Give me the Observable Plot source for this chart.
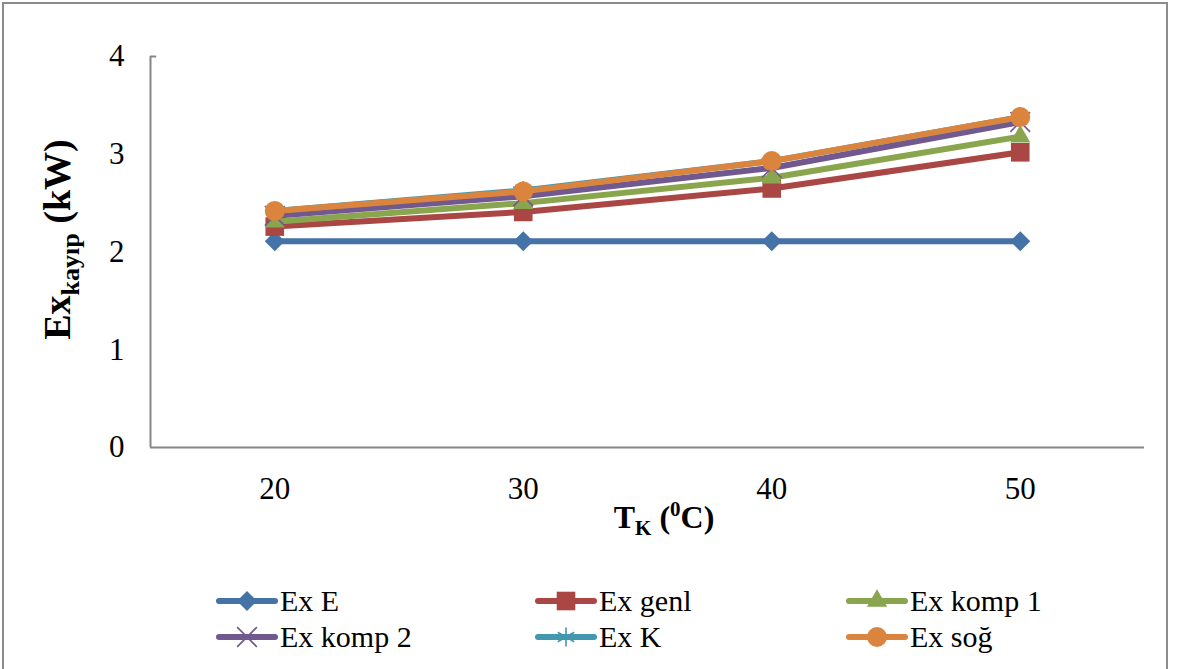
<!DOCTYPE html>
<html>
<head>
<meta charset="utf-8">
<script src="https://cdn.jsdelivr.net/npm/d3@7"></script>
<script src="https://cdn.jsdelivr.net/npm/@observablehq/plot@0.6"></script>
<style>
  body { margin: 0; background: #fff; font-family: "Liberation Serif", "Times New Roman", serif; }
  #chart { position: absolute; left: 0; top: 0; }
  #legend { position: absolute; left: 0; top: 0; width: 1184px; }
  .item { position: absolute; height: 36px; display: flex; align-items: center; font-size: 30px; color: #000; white-space: nowrap; }
  .item svg { margin-right: 4px; overflow: visible; }
  #frame { position: absolute; left: 2px; top: 2px; width: 1162px; height: 720px; border: 2px solid #8c8c8c; pointer-events: none; }
</style>
</head>
<body>
<div id="chart"></div>
<div id="legend"></div>
<div id="frame"></div>
<script>
// Condenser temperature T_K (°C)
const temps = [20, 30, 40, 50];

// Exergy loss per component (kW)
const exE     = [2.11, 2.11, 2.11, 2.11];
const exGenl  = [2.26, 2.41, 2.65, 3.02];
const exKomp1 = [2.31, 2.50, 2.76, 3.18];
const exKomp2 = [2.37, 2.57, 2.86, 3.33];
const exK     = [2.42, 2.63, 2.93, 3.38];
const exSog   = [2.42, 2.62, 2.93, 3.38];

const seriesNames = ["Ex E", "Ex genl", "Ex komp 1", "Ex komp 2", "Ex K", "Ex soğ"];
const seriesValues = [exE, exGenl, exKomp1, exKomp2, exK, exSog];
const yTicks = [0, 1, 2, 3, 4];

// Series styling
const colors  = ["#4572A7", "#AA4643", "#89A54E", "#71588F", "#4198AF", "#DB843D"];
const symbols = ["diamond2", "square", "triangle", "times", "asterisk", "circle"];
const radii   = [9, 10.5, 7.5, 9, 9, 10];
const hollow  = [false, false, false, true, true, false];

// Long table built from the arrays
const rows = [];
seriesValues.forEach((vals, i) => vals.forEach((v, j) => rows.push({ series: seriesNames[i], t: temps[j], v })));

const half = (temps[1] - temps[0]) / 2;
const yMax = yTicks[yTicks.length - 1];

const marks = [
  Plot.ruleX([temps[0] - half], { stroke: "#868686", strokeWidth: 2 }),
  Plot.ruleY([0], { stroke: "#868686", strokeWidth: 2 }),
  // short stub at the top of the value axis
  Plot.ruleY([yMax], { x1: temps[0] - half, x2: temps[0] - half + 0.25, stroke: "#868686", strokeWidth: 2 }),
  Plot.axisX({ ticks: temps, tickSize: 0, tickPadding: 29, fontSize: 31, label: null }),
  Plot.axisY({ ticks: yTicks, tickSize: 0, tickPadding: 26, fontSize: 31, label: null, tickFormat: d3.format("d") })
];

seriesNames.forEach((name, i) => {
  const d = rows.filter(r => r.series === name);
  marks.push(Plot.line(d, { x: "t", y: "v", stroke: colors[i], strokeWidth: 6 }));
  marks.push(Plot.dot(d, hollow[i]
    ? { x: "t", y: "v", symbol: () => symbols[i], r: radii[i], stroke: colors[i], strokeWidth: 1.6, fill: "none" }
    : { x: "t", y: "v", symbol: () => symbols[i], r: radii[i], fill: colors[i], stroke: "none" }));
});

const chart = Plot.plot({
  width: 1184,
  height: 575,
  marginLeft: 150,
  marginRight: 40,
  marginTop: 56,
  marginBottom: 128,
  style: { fontFamily: "Liberation Serif, Times New Roman, serif", color: "#000", background: "transparent" },
  x: { type: "linear", domain: [temps[0] - half, temps[temps.length - 1] + half] },
  y: { domain: [yTicks[0], yMax] },
  symbol: { type: "identity" },
  marks
});
document.getElementById("chart").appendChild(chart);

// Axis titles with sub/superscripts
const svg = d3.select(chart);
const xs = chart.scale("x"), ys = chart.scale("y");
const xMid = (xs.range[0] + xs.range[1]) / 2;
const yMid = (ys.range[0] + ys.range[1]) / 2;

const yt = svg.append("text")
  .attr("transform", `translate(70,${yMid - 12}) rotate(-90)`)
  .attr("text-anchor", "middle")
  .attr("font-weight", "bold")
  .attr("font-size", 38)
  .attr("fill", "#000");
yt.append("tspan").text("Ex");
yt.append("tspan").attr("font-size", 26).attr("dy", 9).text("kayıp");
yt.append("tspan").attr("dy", -9).text(" (kW)");

const xt = svg.append("text")
  .attr("x", xMid + 17)
  .attr("y", 528)
  .attr("text-anchor", "middle")
  .attr("font-weight", "bold")
  .attr("font-size", 32)
  .attr("fill", "#000");
xt.append("tspan").text("T");
xt.append("tspan").attr("font-size", 21).attr("dy", 7).text("K");
xt.append("tspan").attr("dy", -7).text(" (");
xt.append("tspan").attr("font-size", 21).attr("dy", -12).text("0");
xt.append("tspan").attr("dy", 12).text("C)");

// Legend: three columns, two rows
const legend = d3.select("#legend");
const colX = [218, 537, 848];
const rowY = [583, 619];
const symbolTypes = {
  diamond2: d3.symbolDiamond2, square: d3.symbolSquare, triangle: d3.symbolTriangle,
  times: d3.symbolTimes, asterisk: d3.symbolAsterisk, circle: d3.symbolCircle
};
seriesNames.forEach((name, i) => {
  const item = legend.append("div").attr("class", "item")
    .style("left", colX[i % 3] + "px")
    .style("top", rowY[Math.floor(i / 3)] + "px");
  const s = item.append("svg").attr("width", 58).attr("height", 24);
  s.append("line").attr("x1", 1).attr("x2", 57).attr("y1", 12).attr("y2", 12)
    .attr("stroke", colors[i]).attr("stroke-width", 6).attr("stroke-linecap", "round");
  const p = s.append("path")
    .attr("transform", "translate(29,12)")
    .attr("d", d3.symbol(symbolTypes[symbols[i]], Math.PI * radii[i] * radii[i])());
  if (hollow[i]) p.attr("fill", "none").attr("stroke", colors[i]).attr("stroke-width", 1.6);
  else p.attr("fill", colors[i]);
  item.append("span").text(name);
});
</script>
</body>
</html>
